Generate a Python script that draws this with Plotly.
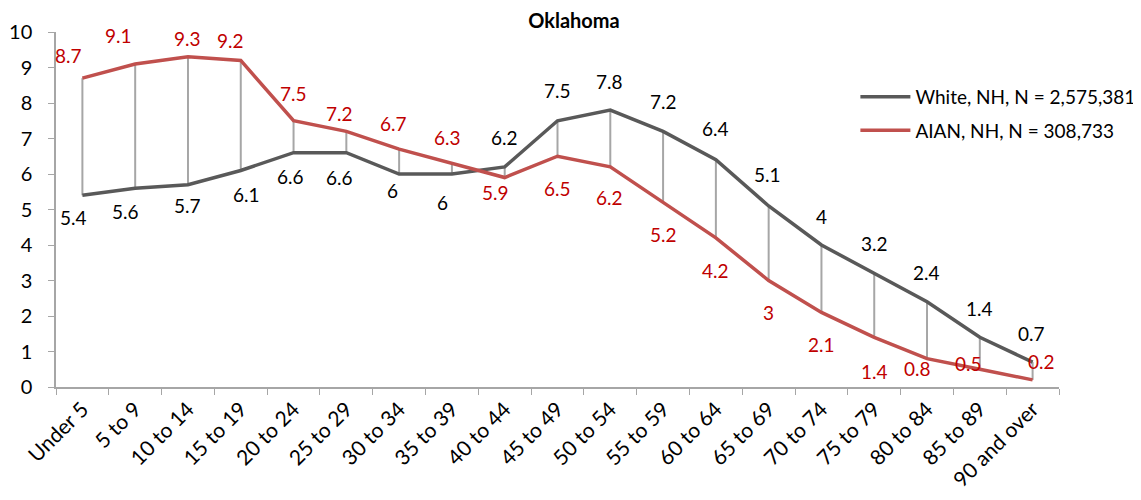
import plotly.graph_objects as go

ages = ["Under 5", "5 to 9", "10 to 14", "15 to 19", "20 to 24", "25 to 29", "30 to 34",
        "35 to 39", "40 to 44", "45 to 49", "50 to 54", "55 to 59", "60 to 64", "65 to 69",
        "70 to 74", "75 to 79", "80 to 84", "85 to 89", "90 and over"]
white = [5.4, 5.6, 5.7, 6.1, 6.6, 6.6, 6.0, 6.0, 6.2, 7.5, 7.8, 7.2, 6.4, 5.1, 4.0, 3.2, 2.4, 1.4, 0.7]
aian = [8.7, 9.1, 9.3, 9.2, 7.5, 7.2, 6.7, 6.3, 5.9, 6.5, 6.2, 5.2, 4.2, 3.0, 2.1, 1.4, 0.8, 0.5, 0.2]
white_name = "White, NH, N = 2,575,381"
aian_name = "AIAN, NH, N = 308,733"

# label offsets in px (dx, dy screen, + is down)
white_off = [(-9, 22), (-10, 23), (0, 21), (6, 24), (-3, 24), (-7, 25), (-7, 16), (-9, 28),
             (0, -29), (0, -30), (-1, -29), (0, -30), (0, -31), (-1, -31), (0, -29), (0, -30),
             (-1, -29), (0, -29), (-1, -29)]
aian_off = [(-14, -23), (-17, -28), (0, -18), (-10, -20), (0, -27), (-7, -18), (-6, -26), (-4, -26),
            (-9, 15), (0, 32), (-1, 31), (0, 32), (0, 33), (0, 32), (0, 32), (0, 34),
            (-10, 10), (-11, -6), (9, -18)]

FONT = "Lato"
RED_TXT = "#C00000"
OFF = 8  # page body margin

fig = go.Figure()

# high-low drop lines between the two series
dx, dy = [], []
for a, w, r in zip(ages, white, aian):
    dx += [a, a, a]
    dy += [w, r, None]
fig.add_scatter(x=dx, y=dy, mode="lines", line=dict(color="#A6A6A6", width=2),
                showlegend=False, hoverinfo="skip")

fig.add_scatter(x=ages, y=white, name=white_name, mode="lines", legendgroup="w",
                line=dict(color="#595959", width=3.5))
fig.add_scatter(x=ages, y=aian, name=aian_name, mode="lines", legendgroup="a",
                line=dict(color="#C0504D", width=3.5))

for a, v, (ox, oy) in zip(ages, white, white_off):
    fig.add_annotation(x=a, y=v, text=f"{v:g}", showarrow=False, xshift=ox, yshift=-oy,
                       font=dict(family=FONT, size=19, color="black"))
for a, v, (ox, oy) in zip(ages, aian, aian_off):
    fig.add_annotation(x=a, y=v, text=f"{v:g}", showarrow=False, xshift=ox, yshift=-oy,
                       font=dict(family=FONT, size=19, color=RED_TXT))

W, H = 1141 - OFF, 500 - OFF
fig.update_layout(
    width=W, height=H,
    margin=dict(l=56 - OFF, r=82, t=32 - OFF, b=113, autoexpand=False),
    plot_bgcolor="white", paper_bgcolor="white",
    font=dict(family=FONT, size=18, color="black"),
    title=dict(text="<b>Oklahoma</b>", x=(574 - OFF) / W, xanchor="center", xref="container",
               y=1 - (21 - OFF) / H, yanchor="middle", yref="container",
               font=dict(family=FONT, size=20, color="black")),
    legend=dict(x=0.797, y=0.871, xanchor="left", yanchor="top", bgcolor="rgba(0,0,0,0)",
                tracegroupgap=6, itemwidth=50, font=dict(family=FONT, size=19)),
    showlegend=True,
)
fig.update_xaxes(type="category", showline=True, linecolor="#A6A6A6", linewidth=1.5,
                 ticks="outside", tickson="boundaries", ticklen=6, tickcolor="#A6A6A6",
                 tickangle=-45, showgrid=False, tickfont=dict(family=FONT, size=21),
                 range=[-0.5, 18.5])
fig.update_yaxes(range=[0, 10], dtick=1, showline=True, linecolor="#A6A6A6", linewidth=1.5,
                 ticks="outside", ticklen=6, tickcolor="#A6A6A6", showgrid=False,
                 zeroline=False, tickfont=dict(family=FONT, size=20), ticklabelstandoff=12)

fig.write_html("out.html")
